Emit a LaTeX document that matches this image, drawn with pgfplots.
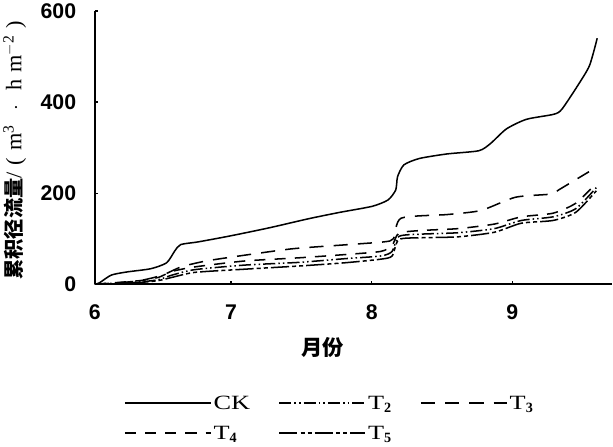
\documentclass[border=0pt]{standalone}
\usepackage{fontspec}
\setmainfont{Liberation Serif}
\newfontfamily\cjk{Noto Sans CJK SC}
\newfontfamily\numfont{Liberation Sans}
\newfontfamily\legfont{Liberation Serif}[FakeStretch=1.3]
\usepackage{pgfplots}
\pgfplotsset{compat=1.18}
\newcommand\g{\hspace{7pt}}

\pgfplotstableread{
x y
0 0
1 3
3.6 20
7.1 27
12.3 34
15.8 47
17.6 73
18.9 87
22.8 93
29.8 106
38.5 124
47.2 144
54.1 158
61.1 171
64.6 185
66.3 207
66.7 236
68.1 262
71.5 276
77.6 286
84.6 293
87.2 309
90.7 341
95.1 362
101.1 373
102.9 384
106.4 436
109 480
110.7 540
}\ck

\pgfplotstableread{
x y
0 0
4 2
10 5
14 10
17 20
22 32
33 42
45 48
55 56
63 62
65.5 72
67 105
72 110
80 113
88 122
94 140
101 148
106 166
110.5 212
}\ttwo

\pgfplotstableread{
x y
0 0
5 3
10 8
14.9 20
19 38
24.5 51
33.2 64
43.7 78
55.9 87
63.7 93
65.8 100
67.5 145
77.7 153
85.1 162
92.7 191
100.7 198
102.2 207
108.9 247
}\tthree

\pgfplotstableread{
x y
0 0
4 3
10 8
14 15
17 28
22 38
33 51
45 58
55 65
63 72
65.5 85
67 112
72 118
80 122
88 132
94 148
101 156
106 178
110.5 222
}\tfour

\pgfplotstableread{
x y
0 0
4 1
10 4
14 8
17 15
22 26
33 33
45 40
55 47
63 55
65.5 62
67 98
72 102
80 104
88 114
94 134
101 140
106 158
110.5 205
}\tfive

\begin{document}
\begin{tikzpicture}
\begin{axis}[
    scale only axis,
    width=511pt,
    height=270pt,
    xmin=0, xmax=114,
    ymin=0, ymax=600,
    axis lines*=left,
    axis line style={line width=1.6pt, -},
    xtick={0,30,61,92},
    xticklabels={6,7,8,9},
    ytick={0,200,400,600},
    tick align=inside,
    major tick length=3pt,
    every tick/.append style={black, line width=1.2pt},
    /pgf/number format/assume math mode=true,
    ticklabel style={font=\numfont\bfseries\fontsize{21}{24}\selectfont},
    xticklabel style={yshift=-17pt},
    yticklabel style={xshift=-15pt},
    xlabel={\cjk\bfseries 月份},
    xlabel style={font=\fontsize{21}{24}\selectfont, at={(axis description cs:0.44,-0.23)}, anchor=center},
    ylabel={{\cjk\bfseries\fontsize{20}{22}\selectfont 累积径流量}/\g(\g m\textsuperscript{3}\g\g$\cdot$\g\g h\g m\textsuperscript{$-$2}\g)},
    ylabel style={font=\fontsize{22}{24}\selectfont, at={(axis description cs:-0.155,0.49)}, anchor=center},
    legend columns=3,
    legend cell align=left,
    legend image code/.code={\draw[#1] (0pt,0pt) -- (85pt,0pt);},
    legend style={draw=none, fill=none, at={(axis description cs:0.05,-0.385)}, anchor=north west,
        font=\legfont\fontsize{20}{22}\selectfont,
        row sep=11pt, inner ysep=4pt,
        /tikz/every even column/.append style={column sep=26pt}},
]
\addplot[black, line width=1.5pt, smooth, tension=0.4] table[x=x,y=y] {\ck};
\addplot[black, line width=1.5pt, smooth, tension=0.4, dash pattern=on 12pt off 3pt on 1.5pt off 3pt on 1.5pt off 3pt] table[x=x,y=y] {\ttwo};
\addplot[black, line width=1.5pt, smooth, tension=0.4, dash pattern=on 14pt off 10pt] table[x=x,y=y] {\tthree};
\addplot[black, line width=1.5pt, smooth, tension=0.4, dash pattern=on 11pt off 9pt] table[x=x,y=y] {\tfour};
\addplot[black, line width=1.5pt, smooth, tension=0.4, dash pattern=on 18pt off 3pt on 4pt off 3pt on 4pt off 3pt] table[x=x,y=y] {\tfive};
\legend{CK, T$_{\mathbf{2}}$, T$_{\mathbf{3}}$, T$_{\mathbf{4}}$, T$_{\mathbf{5}}$}
\end{axis}
\end{tikzpicture}
\end{document}
